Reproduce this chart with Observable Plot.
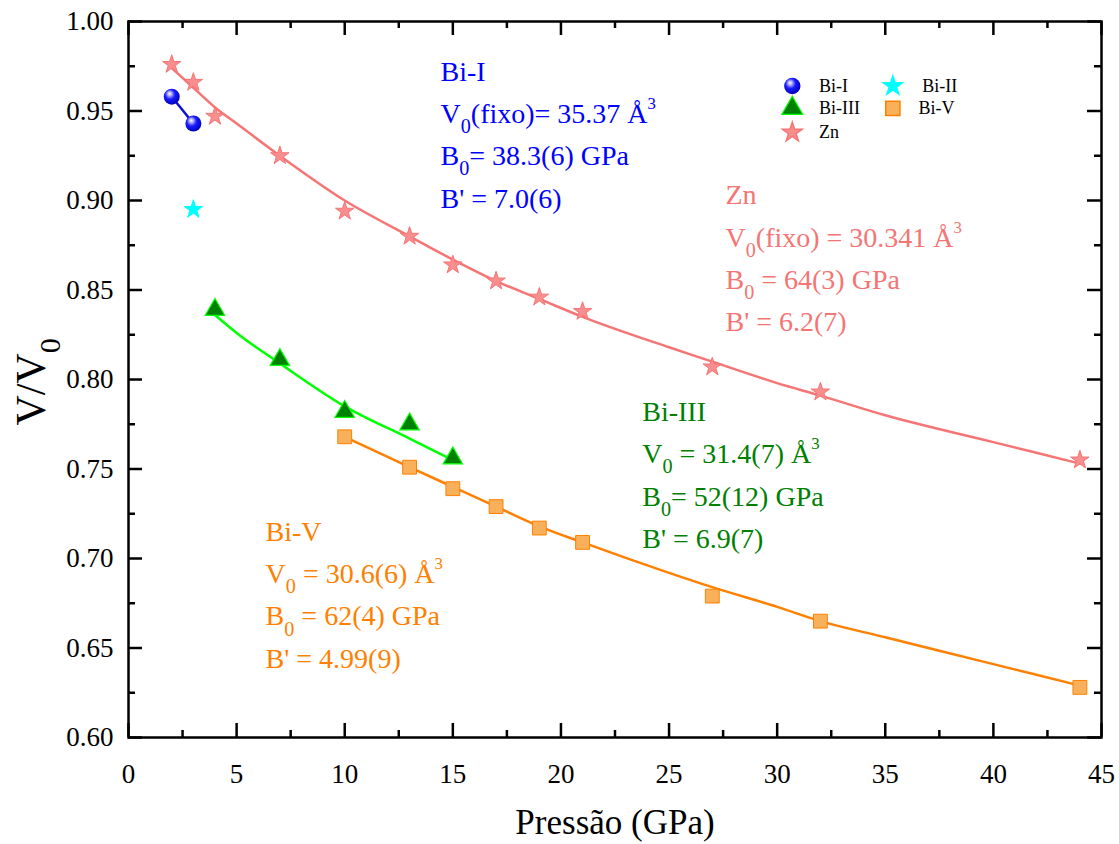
<!DOCTYPE html>
<html><head><meta charset="utf-8">
<script src="https://cdn.jsdelivr.net/npm/d3@7"></script>
<script src="https://cdn.jsdelivr.net/npm/@observablehq/plot@0.6"></script>
<style>
html,body{margin:0;padding:0;background:#fff;}
svg text, svg tspan { font-family: "Liberation Serif" !important; font-variant: normal !important; }
</style></head><body>
<div id="chart"></div>
<script>
// ---- data ----
const znP = [2, 3, 4, 7, 10, 13, 15, 17, 19, 21, 27, 32, 44];
const znV = [0.976, 0.966, 0.947, 0.925, 0.894, 0.880, 0.864, 0.855, 0.846, 0.838, 0.807, 0.793, 0.755];
const znFitP = [2, 3, 4, 5, 7, 10, 13, 15, 17, 19, 21, 25, 27, 30, 32, 35, 40, 44];
const znFitV = [0.974, 0.963, 0.952, 0.943, 0.925, 0.900, 0.880, 0.867, 0.855, 0.845, 0.835, 0.818, 0.810, 0.798, 0.791, 0.780, 0.765, 0.753];

const biIP = [2, 3];
const biIV = [0.958, 0.943];

const biIIP = [3];
const biIIV = [0.895];

const biIIIP = [4, 7, 10, 13, 15];
const biIIIV = [0.839, 0.811, 0.782, 0.775, 0.756];
const biIIIFitP = [4, 5, 7, 10, 13, 15];
const biIIIFitV = [0.836, 0.826, 0.809, 0.785, 0.767, 0.755];

const biVP = [10, 13, 15, 17, 19, 21, 27, 32, 44];
const biVV = [0.768, 0.751, 0.739, 0.729, 0.717, 0.709, 0.679, 0.665, 0.628];
const biVFitP = [10, 13, 15, 17, 19, 21, 25, 27, 30, 32, 35, 40, 44];
const biVFitV = [0.768, 0.751, 0.740, 0.729, 0.718, 0.709, 0.692, 0.684, 0.673, 0.665, 0.656, 0.641, 0.629];

const xTicks = [0, 5, 10, 15, 20, 25, 30, 35, 40, 45];
const xMinor = [2.5, 7.5, 12.5, 17.5, 22.5, 27.5, 32.5, 37.5, 42.5];
const yTicks = [0.60, 0.65, 0.70, 0.75, 0.80, 0.85, 0.90, 0.95, 1.00];
const yMinor = [0.625, 0.675, 0.725, 0.775, 0.825, 0.875, 0.925, 0.975];

const xLabel = "Pressão (GPa)";
const yLabel = "V/V_0";

const legendNames = ["Bi-I", "Bi-II", "Bi-III", "Bi-V", "Zn"];

const annBiI = ["Bi-I", "V_0(fixo)= 35.37 Å^3", "B_0= 38.3(6) GPa", "B' = 7.0(6)"];
const annZn = ["Zn", "V_0(fixo) = 30.341 Å^3", "B_0 = 64(3) GPa", "B' = 6.2(7)"];
const annBiIII = ["Bi-III", "V_0 = 31.4(7) Å^3", "B_0= 52(12) GPa", "B' = 6.9(7)"];
const annBiV = ["Bi-V", "V_0 = 30.6(6) Å^3", "B_0 = 62(4) GPa", "B' = 4.99(9)"];

// ---- build tables ----
const pts = (P, V) => P.map((p, i) => ({p, v: V[i]}));
const zn = pts(znP, znV), znFit = pts(znFitP, znFitV);
const biI = pts(biIP, biIV), biII = pts(biIIP, biIIV);
const biIII = pts(biIIIP, biIIIV), biIIIFit = pts(biIIIFitP, biIIIFitV);
const biV = pts(biVP, biVV), biVFit = pts(biVFitP, biVFitV);

const serif = "Liberation Serif";
const C = {
  zn: "#F57575", znFill: "#F88E8E",
  blue: "#0000FF", blueLine: "#1010D0",
  cyan: "#00FFFF",
  green: "#008000", lime: "#00FF00",
  orange: "#FF8000", sq: "#F8B05A"
};
const X0 = 0, X1 = 45, Y0 = 0.60, Y1 = 1.00;
const step = 0.0237;
const ann = (lines, x, y0, color) => Plot.text(lines, {
  x: x, y: (d, i) => y0 - i * step, text: d => d,
  textAnchor: "start", fill: color, fontSize: 28, fontFamily: serif
});

// legend positions (data coordinates inside the frame)
const LX1 = 30.70, LX2 = 35.35, LT1 = 31.93, LT2a = 36.71, LT2b = 36.54;
const LY1 = 0.9640, LY2 = 0.9515, LY3 = 0.9380;
const legDot = (name, x, y, opts) => Plot.dot([name], {x, y, ...opts});
const legText = (name, x, y) => Plot.text([name], {x, y, text: d => d, textAnchor: "start", fontSize: 18, fontFamily: serif, fill: "black"});

// inward ticks; length per pixel expressed in data units of each scale
const TX = 45 / 973, TY = 0.40 / 716;
const tickStyle = {stroke: "black", strokeWidth: 2.5};
const xTicksIn = (values, len) => [
  Plot.ruleX(values, {x: d => d, y1: Y0, y2: Y0 + len * TY, ...tickStyle}),
  Plot.ruleX(values, {x: d => d, y1: Y1, y2: Y1 - len * TY, ...tickStyle})
];
const yTicksIn = (values, len) => [
  Plot.ruleY(values, {y: d => d, x1: X0, x2: X0 + len * TX, ...tickStyle}),
  Plot.ruleY(values, {y: d => d, x1: X1, x2: X1 - len * TX, ...tickStyle})
];

const svg = Plot.plot({
  width: 1119, height: 844,
  marginTop: 21, marginRight: 18, marginBottom: 107, marginLeft: 128,
  x: {domain: [X0, X1], axis: null},
  y: {domain: [Y0, Y1], axis: null},
  style: {fontFamily: serif, color: "black", background: "white", overflow: "visible"},
  marks: [
    // fitted curves
    Plot.line(znFit, {x: "p", y: "v", stroke: C.zn, strokeWidth: 2.5, curve: "monotone-x"}),
    Plot.line(biI, {x: "p", y: "v", stroke: C.blueLine, strokeWidth: 2.5}),
    Plot.line(biIIIFit, {x: "p", y: "v", stroke: C.lime, strokeWidth: 2.5, curve: "monotone-x"}),
    Plot.line(biVFit, {x: "p", y: "v", stroke: C.orange, strokeWidth: 2.5, curve: "monotone-x"}),
    // data symbols
    Plot.dot(zn, {x: "p", y: "v", symbol: "star", r: 5.8, fill: C.znFill, stroke: C.zn, strokeWidth: 1}),
    Plot.dot(biII, {x: "p", y: "v", symbol: "star", r: 5.8, fill: C.cyan, stroke: C.cyan, strokeWidth: 1}),
    Plot.dot(biIII, {x: "p", y: "v", symbol: "triangle", r: 7.2, fill: C.green, stroke: C.lime, strokeWidth: 1.2}),
    Plot.dot(biV, {x: "p", y: "v", symbol: "square", r: 7.8, fill: C.sq, stroke: C.orange, strokeWidth: 1}),
    Plot.dot(biI, {x: "p", y: "v", r: 8, fill: "url(#sphere)", stroke: "none"}),
    // legend (inside plot)
    legDot(legendNames[0], LX1, LY1, {r: 8.2, fill: "url(#sphere)", stroke: "none"}),
    legDot(legendNames[1], LX2, LY1, {symbol: "star", r: 6, fill: C.cyan, stroke: C.cyan}),
    legDot(legendNames[2], LX1, LY2, {symbol: "triangle", r: 7.8, fill: C.green, stroke: C.lime, strokeWidth: 1.2}),
    legDot(legendNames[3], LX2, LY2, {symbol: "square", r: 8, fill: C.sq, stroke: C.orange}),
    legDot(legendNames[4], LX1, LY3, {symbol: "star", r: 6.2, fill: C.znFill, stroke: C.zn}),
    legText(legendNames[0], LT1, LY1),
    legText(legendNames[1], LT2a, LY1),
    legText(legendNames[2], LT1, LY2),
    legText(legendNames[3], LT2b, LY2),
    legText(legendNames[4], LT1, LY3),
    // annotations
    ann(annBiI, 14.43, 0.972, C.blue),
    ann(annZn, 27.61, 0.903, C.zn),
    ann(annBiIII, 23.76, 0.782, C.green),
    ann(annBiV, 6.34, 0.715, C.orange),
    // tick labels
    Plot.text(xTicks, {x: d => d, y: Y0, dy: 26, lineAnchor: "top", text: d => String(d), fontSize: 27, fontFamily: serif, fill: "black"}),
    Plot.text(yTicks, {y: d => d, x: X0, dx: -15, textAnchor: "end", text: d3.format(".2f"), fontSize: 27, fontFamily: serif, fill: "black"}),
    // inward ticks on all four sides
    ...xTicksIn(xTicks, 14), ...xTicksIn(xMinor, 7),
    ...yTicksIn(yTicks, 14), ...yTicksIn(yMinor, 7),
    Plot.frame({stroke: "black", strokeWidth: 2.5}),
    // axis titles
    Plot.text([xLabel], {frameAnchor: "bottom", dy: 96, text: d => d, fontSize: 35, fontFamily: serif, fill: "black"}),
    Plot.text([yLabel], {frameAnchor: "left", dx: -97, dy: 46, rotate: -90, text: d => d, fontSize: 42, fontFamily: serif, fill: "black"})
  ]
});

// gradient for the "sphere" symbols
d3.select(svg).insert("defs", ":first-child").html(`
  <radialGradient id="sphere" cx="0.42" cy="0.40" r="0.62" fx="0.36" fy="0.30">
    <stop offset="0" stop-color="#ffffff"/>
    <stop offset="0.22" stop-color="#a8a8ff"/>
    <stop offset="0.5" stop-color="#1a1aff"/>
    <stop offset="1" stop-color="#0000b8"/>
  </radialGradient>`);

document.getElementById("chart").append(svg);

// sub/superscripts: "_x" -> subscript, "^x" -> superscript
const NS = "http://www.w3.org/2000/svg";
svg.querySelectorAll("text").forEach(t => {
  if (t.querySelector("tspan")) return;
  const s = t.textContent;
  if (!/[_^]/.test(s)) return;
  const fs = parseFloat(getComputedStyle(t).fontSize) || 28;
  t.textContent = "";
  const parts = s.split(/([_^].)/);
  let shift = 0;
  for (const part of parts) {
    if (!part) continue;
    const ts = document.createElementNS(NS, "tspan");
    if (part[0] === "_" || part[0] === "^") {
      const sub = part[0] === "_";
      const target = sub ? 0.36 * fs : -0.5 * fs;
      ts.setAttribute("dy", target - shift);
      shift = target;
      ts.setAttribute("font-size", (sub ? 0.72 : 0.6) * fs);
      ts.textContent = part[1];
    } else {
      ts.setAttribute("dy", -shift);
      shift = 0;
      ts.textContent = part;
    }
    t.appendChild(ts);
  }
});
</script>
</body></html>
